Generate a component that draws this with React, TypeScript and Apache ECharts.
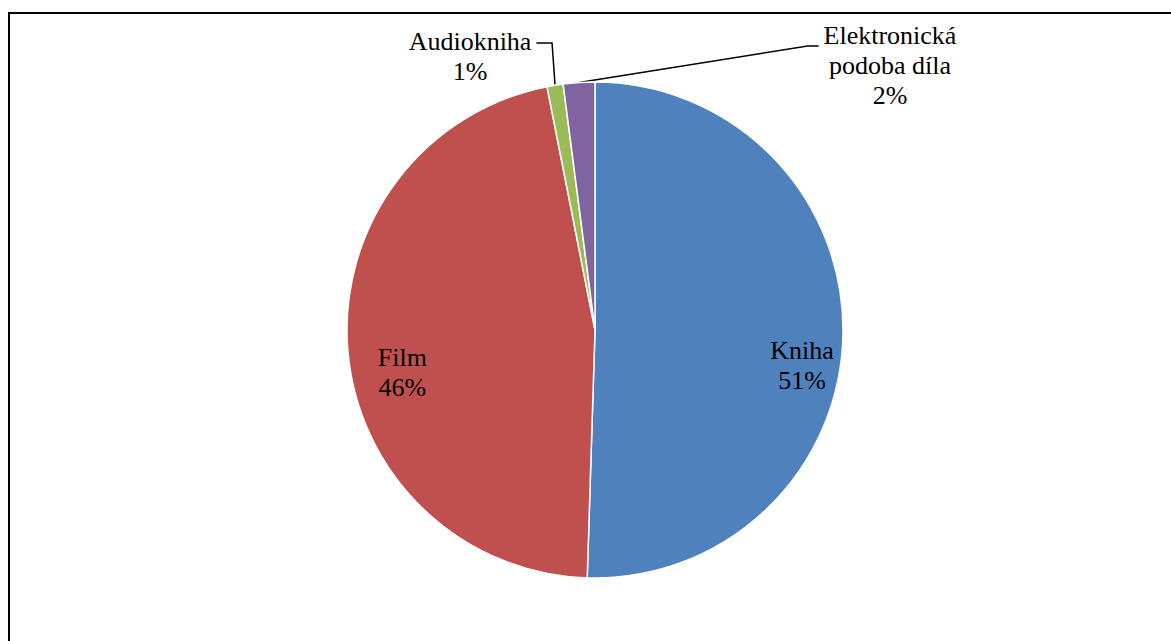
import React, { useEffect, useRef } from "react";
import * as echarts from "echarts";

const categories = ["Kniha", "Film", "Audiokniha", "Elektronická\npodoba díla"];
const values = [50.5, 46.4, 1.05, 2.05];
const colors = ["#4F81BD", "#C0504D", "#9BBB59", "#8064A2"];
const insideIdx = [0, 1];

// label placement (layout, not data)
const labelMoves: Record<number, any> = {
  0: { dx: 80, dy: 34 },
  1: { dx: -66, dy: 32 },
  2: { x: 470, y: 56, align: "center", verticalAlign: "middle" },
  3: { x: 890, y: 65, align: "center", verticalAlign: "middle" },
};
// vertical offset of the leader line's end from the first text line's centre
const leaderDy: Record<number, number> = { 2: 2, 3: 11 };
const LINE_H = 30;
const CX = 595;

const FONT = "'Liberation Serif', 'Times New Roman', serif";

export default function App() {
  const ref = useRef<HTMLDivElement>(null);
  useEffect(() => {
    if (!ref.current) return;
    const chart = echarts.init(ref.current, undefined, { renderer: "svg" });
    const data = categories.map((name, i) => {
      const inside = insideIdx.includes(i);
      return {
        name,
        value: values[i],
        itemStyle: { color: colors[i] },
        label: { position: inside ? "inside" : "outside" },
        labelLine: inside
          ? { show: false }
          : { show: true, length: 20, length2: 12, lineStyle: { color: "#000", width: 1.5 } },
      };
    });
    const labelLayout = (p: any) => {
      const m = labelMoves[p.dataIndex];
      if (!m) return {};
      if (m.x == null) return m;
      const w = p.labelRect.width;
      const h = p.labelRect.height;
      const y1 = m.y - h / 2 + LINE_H / 2 + (leaderDy[p.dataIndex] || 0);
      const pts = p.labelLinePoints;
      if (!pts || !pts.length) return m;
      const a = pts[0];
      let b: number[], c: number[];
      if (m.x < CX) {
        c = [m.x + w / 2 + 5, y1];
        b = [a[0] - 3, y1];
      } else {
        c = [m.x - w / 2 - 5, y1];
        b = [c[0] - 11, y1];
      }
      return { ...m, labelLinePoints: [[a[0], a[1]], b, c] };
    };
    chart.setOption({
      animation: false,
      backgroundColor: "#fff",
      graphic: [
        {
          type: "rect",
          shape: { x: 9, y: 13, width: 1200, height: 700 },
          style: { fill: "none", stroke: "#000", lineWidth: 2 },
          silent: true,
        },
      ],
      series: [
        {
          type: "pie",
          center: [595, 330],
          radius: 248,
          startAngle: 90,
          clockwise: true,
          avoidLabelOverlap: false,
          percentPrecision: 0,
          itemStyle: { borderColor: "#fff", borderWidth: 1.5 },
          emphasis: { disabled: true },
          label: {
            formatter: "{b}\n{d}%",
            fontFamily: FONT,
            fontSize: 26,
            lineHeight: LINE_H,
            color: "#000",
            align: "center",
          },
          labelLayout,
          data,
        },
      ],
    });
    return () => chart.dispose();
  }, []);
  return (
    <div
      ref={ref}
      style={{ position: "fixed", left: 0, top: 0, width: 1171, height: 641 }}
    />
  );
}
